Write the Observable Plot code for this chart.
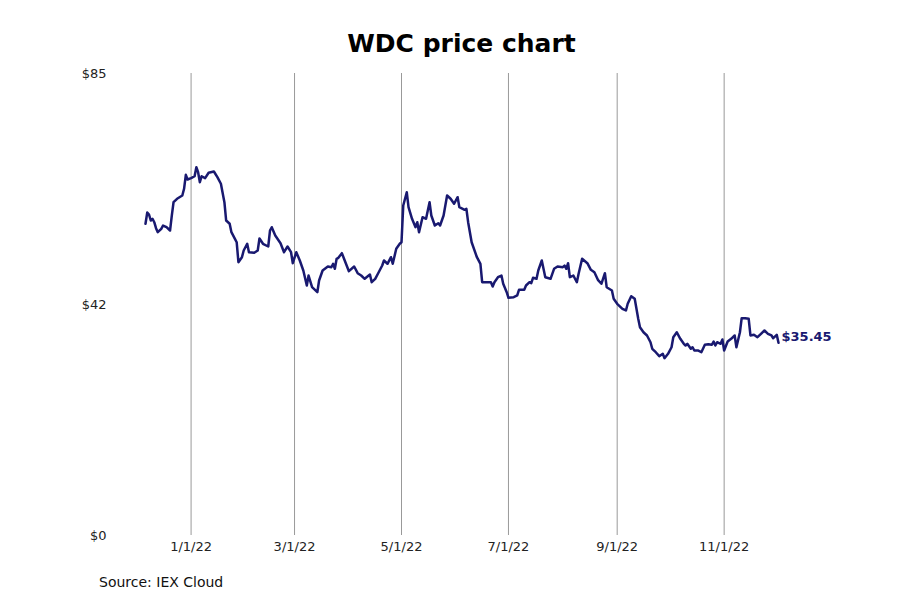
<!DOCTYPE html>
<html>
<head>
<meta charset="utf-8">
<script src="https://cdn.jsdelivr.net/npm/d3@7"></script>
<script src="https://cdn.jsdelivr.net/npm/@observablehq/plot@0.6"></script>
<style>
  body { margin: 0; background: #fff; font-family: "DejaVu Sans", sans-serif; }
  #wrap { position: relative; width: 900px; height: 600px; background: #fff; }
  #title { position: absolute; top: 29px; left: 0; width: 900px; box-sizing: border-box; padding-left: 23px;
           text-align: center; font-size: 25px; font-weight: bold; line-height: 29px; color: #000; margin: 0; }
  #chart { position: absolute; top: 60px; left: 0; }
  #caption { position: absolute; top: 574px; left: 99px; font-size: 14px; line-height: 16px; color: #111; }
</style>
</head>
<body>
<div id="wrap">
  <div id="title">WDC price chart</div>
  <div id="chart"></div>
  <div id="caption">Source: IEX Cloud</div>
</div>
<script>
const dates = [
"2021-12-06","2021-12-07","2021-12-08","2021-12-09","2021-12-10","2021-12-11","2021-12-12","2021-12-13","2021-12-15","2021-12-16",
"2021-12-18","2021-12-20","2021-12-21","2021-12-22","2021-12-24","2021-12-27","2021-12-28","2021-12-29","2021-12-30","2022-01-01",
"2022-01-03","2022-01-04","2022-01-05","2022-01-06","2022-01-07","2022-01-09","2022-01-11","2022-01-14","2022-01-16","2022-01-18",
"2022-01-20","2022-01-21","2022-01-23","2022-01-24","2022-01-26","2022-01-27","2022-01-28","2022-01-30","2022-01-31","2022-02-02",
"2022-02-03","2022-02-06","2022-02-08","2022-02-09","2022-02-11","2022-02-14","2022-02-15","2022-02-16","2022-02-18","2022-02-21",
"2022-02-23","2022-02-25","2022-02-27","2022-02-28","2022-03-02","2022-03-04","2022-03-06","2022-03-08","2022-03-09","2022-03-11",
"2022-03-14","2022-03-15","2022-03-17","2022-03-20","2022-03-22","2022-03-23","2022-03-24","2022-03-25","2022-03-26","2022-03-28",
"2022-03-30","2022-04-01","2022-04-04","2022-04-06","2022-04-08","2022-04-10","2022-04-13","2022-04-14","2022-04-16","2022-04-18",
"2022-04-20","2022-04-21","2022-04-23","2022-04-25","2022-04-26","2022-04-28","2022-04-30","2022-05-01","2022-05-02","2022-05-04",
"2022-05-05","2022-05-07","2022-05-09","2022-05-10","2022-05-11","2022-05-13","2022-05-15","2022-05-17","2022-05-18","2022-05-20",
"2022-05-22","2022-05-23","2022-05-25","2022-05-27","2022-05-29","2022-05-31","2022-06-02","2022-06-03","2022-06-06","2022-06-07",
"2022-06-08","2022-06-10","2022-06-13","2022-06-15","2022-06-16","2022-06-19","2022-06-21","2022-06-22","2022-06-23","2022-06-25",
"2022-06-27","2022-06-28","2022-06-30","2022-07-01","2022-07-04","2022-07-06","2022-07-07","2022-07-10","2022-07-11","2022-07-13",
"2022-07-14","2022-07-15","2022-07-17","2022-07-18","2022-07-20","2022-07-22","2022-07-25","2022-07-27","2022-07-29","2022-08-01",
"2022-08-02","2022-08-03","2022-08-04","2022-08-05","2022-08-07","2022-08-09","2022-08-10","2022-08-12","2022-08-15","2022-08-17",
"2022-08-19","2022-08-21","2022-08-23","2022-08-25","2022-08-26","2022-08-29","2022-08-30","2022-09-01","2022-09-04","2022-09-06",
"2022-09-07","2022-09-09","2022-09-11","2022-09-13","2022-09-14","2022-09-16","2022-09-18","2022-09-20","2022-09-21","2022-09-23",
"2022-09-25","2022-09-27","2022-09-28","2022-09-30","2022-10-02","2022-10-03","2022-10-05","2022-10-07","2022-10-09","2022-10-10",
"2022-10-11","2022-10-13","2022-10-14","2022-10-15","2022-10-17","2022-10-19","2022-10-21","2022-10-23","2022-10-25","2022-10-26",
"2022-10-27","2022-10-28","2022-10-30","2022-10-31","2022-11-01","2022-11-03","2022-11-05","2022-11-07","2022-11-08","2022-11-10",
"2022-11-11","2022-11-13","2022-11-15","2022-11-16","2022-11-18","2022-11-20","2022-11-22","2022-11-24","2022-11-26","2022-11-28",
"2022-11-29","2022-12-01","2022-12-02"
];
const prices = [
57.35,59.43,59.06,57.95,58.27,57.64,56.54,55.80,56.43,57.03,
56.72,56.11,58.87,61.32,61.95,62.55,63.79,66.36,65.50,65.74,
66.10,67.76,66.84,65.00,66.10,65.74,66.73,66.97,65.92,64.71,
61.32,57.95,57.35,55.80,54.59,53.96,50.28,51.20,52.43,53.67,
52.12,52.01,52.43,54.64,53.67,53.17,56.11,56.72,55.19,53.78,
52.12,53.17,52.12,50.10,52.12,50.59,48.75,45.99,47.83,45.68,
44.76,46.91,48.75,49.49,49.36,49.99,49.07,50.91,51.09,51.94,
50.28,48.63,49.49,48.26,47.83,47.23,48.02,46.60,47.23,48.44,
49.67,50.59,49.99,51.20,49.99,52.75,53.67,53.96,60.71,63.16,
60.40,58.27,56.72,57.64,55.80,58.56,58.27,61.32,58.87,57.03,
57.46,57.03,58.87,62.55,61.95,61.03,62.24,60.40,59.92,60.11,
57.64,53.96,51.20,49.99,46.60,46.60,46.60,45.81,46.60,47.52,
47.83,46.31,44.76,43.73,43.84,44.16,45.20,45.20,45.99,46.60,
46.42,47.41,47.23,48.75,50.59,47.52,47.23,49.07,49.49,49.36,
49.67,49.07,50.10,47.52,47.83,46.60,48.15,50.91,50.10,48.88,
48.44,47.04,46.31,48.26,45.68,45.08,43.55,42.63,41.71,41.40,
42.63,44.03,43.55,39.87,38.32,37.40,36.80,35.56,34.35,33.72,
32.99,33.43,32.62,33.43,34.64,36.48,37.40,36.19,35.27,34.96,
35.27,34.35,34.64,34.04,34.04,33.72,35.09,35.20,35.09,35.69,
34.96,35.56,35.27,36.06,34.04,35.69,36.19,36.80,34.64,37.40,
39.98,39.98,39.87,36.80,36.93,36.48,37.11,37.72,37.11,36.80,
36.30,36.93,35.45
];
const xTickDates = ["2022-01-01","2022-03-01","2022-05-01","2022-07-01","2022-09-01","2022-11-01"];
const xTickLabels = ["1/1/22","3/1/22","5/1/22","7/1/22","9/1/22","11/1/22"];
const yTicks = [0, 42.5, 85];
const yTickLabels = ["$0","$42","$85"];

const data = dates.map((d, i) => ({date: new Date(d), price: prices[i]}));
const xTicks = xTickDates.map(d => new Date(d));
const last = data[data.length - 1];

const chart = Plot.plot({
  width: 900,
  height: 505,
  marginTop: 13,
  marginBottom: 30,
  marginLeft: 145,
  marginRight: 122,
  style: {fontFamily: "DejaVu Sans, sans-serif", fontSize: "13px", color: "#222", background: "white"},
  x: {
    type: "utc",
    domain: [data[0].date, last.date],
    ticks: xTicks,
    tickFormat: d => xTickLabels[xTicks.findIndex(t => +t === +d)],
    tickSize: 0,
    tickPadding: 6,
    label: null
  },
  y: {
    domain: [0, 85],
    ticks: yTicks,
    tickFormat: d => yTickLabels[yTicks.indexOf(d)],
    tickSize: 0,
    tickPadding: 39,
    label: null
  },
  marks: [
    Plot.ruleX(xTicks, {stroke: "#999", strokeWidth: 1}),
    Plot.line(data, {x: "date", y: "price", stroke: "#191970", strokeWidth: 2.5, strokeLinejoin: "round"}),
    Plot.text([last], {x: "date", y: "price", text: d => "$" + d.price.toFixed(2), textAnchor: "start",
      dx: 3, dy: -6, fontWeight: "bold", fill: "#191970", fontSize: 13})
  ]
});
document.getElementById("chart").appendChild(chart);
</script>
</body>
</html>
